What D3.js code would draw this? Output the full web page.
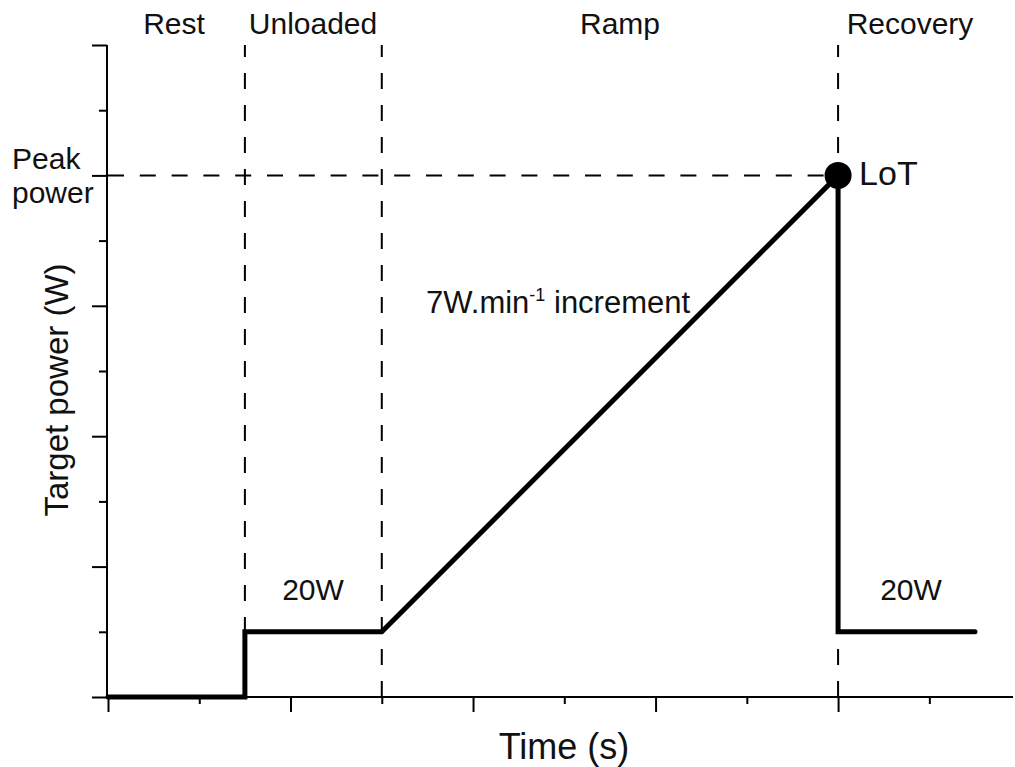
<!DOCTYPE html>
<html>
<head>
<meta charset="utf-8">
<script src="https://cdn.jsdelivr.net/npm/d3@7"></script>
<style>
  html, body { margin: 0; padding: 0; background: #fff; }
  text { font-family: "Liberation Sans", Arial, sans-serif; fill: #111; }
</style>
</head>
<body>
<svg id="chart" width="1015" height="767"></svg>
<script>
// ---- data (schematic protocol) ----
const phaseNames = ["Rest", "Unloaded", "Ramp", "Recovery"];
const phaseBounds = [0, 180, 360, 960, 1140];          // seconds
const profileTime  = [0, 180, 180, 360, 960, 960, 1140];
const profilePower = [0, 0, 20, 20, 160, 20, 20];      // target power (W, schematic)
const peakPower = 160;
const peakTime = 960;
const majorXTicks = [0, 240, 480, 720, 960];
const minorXTicks = [120, 360, 600, 840, 1080];
const majorYTicks = [0, 40, 80, 120, 160, 200];
const minorYTicks = [20, 60, 100, 140, 180];
const levelLabels = ["20W", "20W"];

const svg = d3.select("#chart");
const x = d3.scaleLinear().domain([0, 1190]).range([108, 1013]);
const y = d3.scaleLinear().domain([0, 200]).range([697, 45]);

// dashed phase boundaries
const dash = "16,16";
[phaseBounds[1], phaseBounds[2], phaseBounds[3]].forEach(t => {
  svg.append("line")
    .attr("x1", x(t)).attr("x2", x(t))
    .attr("y1", y(0)).attr("y2", y(200))
    .attr("stroke", "#000").attr("stroke-width", 2)
    .attr("stroke-dasharray", dash);
});
// peak power dashed line
svg.append("line")
  .attr("x1", x(0)).attr("x2", x(peakTime))
  .attr("y1", y(peakPower)).attr("y2", y(peakPower))
  .attr("stroke", "#000").attr("stroke-width", 2)
  .attr("stroke-dasharray", "16,15.8");

// axes
const xAxisMajor = d3.axisBottom(x).tickValues(majorXTicks).tickSize(15).tickFormat("");
const xAxisMinor = d3.axisBottom(x).tickValues(minorXTicks).tickSize(7).tickFormat("");
const yAxisMajor = d3.axisLeft(y).tickValues(majorYTicks).tickSize(15).tickFormat("");
const yAxisMinor = d3.axisLeft(y).tickValues(minorYTicks).tickSize(8).tickFormat("");

function styleAxis(g) {
  g.selectAll("path").attr("stroke", "#000").attr("stroke-width", 2);
  g.selectAll("line").attr("stroke", "#000").attr("stroke-width", 2);
}
svg.append("g").attr("transform", `translate(0,${y(0)})`).call(xAxisMajor).call(styleAxis)
  .select(".domain").attr("d", `M${x(0)},0H${x(1190)}`);
svg.append("g").attr("transform", `translate(0,${y(0)})`).call(xAxisMinor).call(styleAxis)
  .select(".domain").remove();
svg.append("g").attr("transform", `translate(${x(0) - 1},0)`).call(yAxisMajor).call(styleAxis)
  .select(".domain").attr("d", `M0,${y(0)}V${y(200)}`);
svg.append("g").attr("transform", `translate(${x(0) - 1},0)`).call(yAxisMinor).call(styleAxis)
  .select(".domain").remove();

// profile line
const pts = profileTime.map((t, i) => [t, profilePower[i]]);
svg.append("path")
  .datum(pts)
  .attr("d", d3.line().x(d => x(d[0])).y(d => y(d[1])))
  .attr("fill", "none").attr("stroke", "#000").attr("stroke-width", 5)
  .attr("stroke-linejoin", "miter").attr("stroke-linecap", "round");

// peak marker
svg.append("circle").attr("cx", x(peakTime)).attr("cy", y(peakPower)).attr("r", 13.5).attr("fill", "#000");
svg.append("text").attr("x", x(peakTime) + 21).attr("y", y(peakPower) + 10)
  .attr("font-size", 34).text("LoT");

// phase labels
const phaseCenters = [174, 313, 620, 910];
phaseNames.forEach((n, i) => {
  svg.append("text").attr("x", phaseCenters[i]).attr("y", 34)
    .attr("text-anchor", "middle").attr("font-size", 30).text(n);
});

// level labels
svg.append("text").attr("x", 313).attr("y", 600).attr("text-anchor", "middle")
  .attr("font-size", 30).text(levelLabels[0]);
svg.append("text").attr("x", 911).attr("y", 600).attr("text-anchor", "middle")
  .attr("font-size", 30).text(levelLabels[1]);

// ramp annotation
const ann = svg.append("text").attr("x", 426).attr("y", 313).attr("font-size", 31);
ann.append("tspan").text("7W.min");
ann.append("tspan").attr("font-size", 18).attr("dy", -12).text("-1");
ann.append("tspan").attr("dy", 12).text(" increment");

// peak power label
svg.append("text").attr("x", 12).attr("y", 169).attr("font-size", 30).text("Peak");
svg.append("text").attr("x", 12).attr("y", 203).attr("font-size", 30).text("power");

// axis titles
svg.append("text").attr("x", 564).attr("y", 759).attr("text-anchor", "middle")
  .attr("font-size", 36).text("Time (s)");
svg.append("text").attr("transform", "translate(68,390) rotate(-90)")
  .attr("text-anchor", "middle").attr("font-size", 33).text("Target power (W)");
</script>
</body>
</html>
